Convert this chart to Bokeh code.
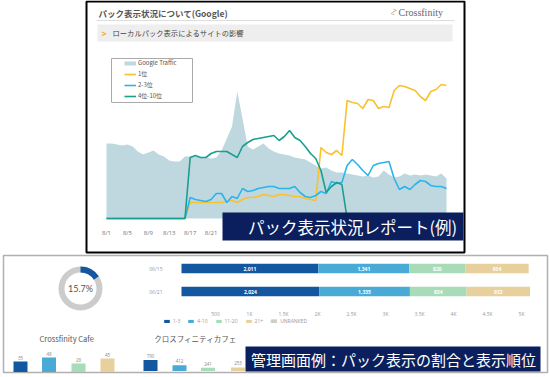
from bokeh.plotting import figure
from bokeh.models import Range1d, LinearAxis, FixedTicker, Legend, LegendItem, ColumnDataSource
from bokeh.core.properties import value
from bokeh.embed import file_html
from bokeh.resources import INLINE
import math

W, H = 550, 377

# ---------------- data: line chart (daily, 8/1 .. 10/5) ----------------
DAY_INDEX = list(range(66))
TICK_DAYS = [0, 4, 8, 12, 16, 20, 24, 28, 32, 36, 40, 44, 48, 52, 56, 60, 64]
TICK_LABELS = ["8/1", "8/5", "8/9", "8/13", "8/17", "8/21", "8/25", "8/29", "9/2",
               "9/6", "9/10", "9/14", "9/18", "9/22", "9/26", "9/30", "10/4"]
SERIES_NAMES = ["Google Traffic", "1位", "2-3位", "4位-10位"]
GOOGLE_TRAFFIC = [75, 75, 74, 73, 74, 72, 67, 64, 66, 68,
                  64, 62, 58, 57, 57, 62, 62, 62, 61, 61,
                  60, 61, 68, 80, 92, 127, 100, 72, 69, 72,
                  75, 70, 67, 65, 64, 63, 61, 60, 59, 56,
                  53, 50, 51, 48, 46, 46, 45, 44, 43, 42,
                  43, 41, 42, 48, 44, 41, 42, 45, 43, 44,
                  43, 44, 43, 42, 45, 40]
RANK_1 = [0, 0, 0, 0, 0, 0, 0, 0, 0, 0, 0, 0, 0, 0, 0, 0,
          16, 16, 16, 16, 16, 16, 16, 17, 18, 16,
          19, 21, 21, 22, 24, 23, 22, 24, 24, 23,
          22, 22, 20, 19, 18, 71, 66, 64, 68, 63,
          118, 116, 115, 110, 119, 118, 110, 112, 111, 128,
          133, 132, 130, 128, 122, 118, 127, 129, 134, 133]
RANK_2_3 = [0, 0, 0, 0, 0, 0, 0, 0, 0, 0, 0, 0, 0, 0, 0, 0,
            21, 19, 18, 17, 19, 25, 25, 16, 22, 20,
            30, 27, 28, 30, 31, 32, 32, 30, 30, 30,
            32, 26, 22, 21, 23, 27, 25, 37, 35, 36,
            53, 59, 54, 48, 43, 53, 55, 56, 57, 40,
            29, 32, 29, 34, 38, 37, 33, 32, 32, 30]
RANK_4_10 = [0, 0, 0, 0, 0, 0, 0, 0, 0, 0, 0, 0, 0, 0, 0, 0,
             61, 63, 61, 61, 65, 67, 67, 67, 64, 61,
             72, 76, 79, 80, 81, 82, 83, 78, 82, 88,
             81, 78, 72, 65, 60, 48, 26, 32, 36, 34,
             0, 0, 0, 0, 0, 0, 0, 0, 0, 0,
             0, 0, 0, 0, 0, 0, 0, 0, 0, 0]

# ---------------- data: admin screen ----------------
BAR_DATES = ["06/15", "06/21"]
R1_3 = [2011, 2024]
R4_10 = [1341, 1335]
R11_20 = [820, 834]
R21P = [934, 932]
RANK_NAMES = ["1-3", "4-10", "11-20", "21+", "UNRANKED"]
CNT_TICKS = [500, 1000, 1500, 2000, 2500, 3000, 3500, 4000, 4500, 5000]
CNT_TICK_LABELS = ["500", "1K", "1.5K", "2K", "2.5K", "3K", "3.5K", "4K", "4.5K", "5K"]
PACK_SHARE = 15.7
CAFE_NAMES = ["Crossfinity  Cafe", "クロスフィニティカフェ"]
CAFE1_RANKS = [35, 48, 28, 45]
CAFE2_RANKS = [790, 412, 241, 253]

TITLE = "パック表示状況について(Google)"
SUBTITLE = "ローカルパック表示によるサイトの影響"
LOGO = "Crossfinity"
CAPTION1 = "パック表示状況レポート(例)"
CAPTION2 = "管理画面例：パック表示の割合と表示順位"

# ---------------- styles ----------------
TRAFFIC_C = "#bfd8df"
LINE_COLORS = ["#f9c12e", "#2bb4ec", "#1a9e8e"]
RANK_COLORS = ["#12579f", "#4aaad6", "#a8dcb8", "#e8d09d", "#cccccc"]
NAVY = "#0b1f5e"
JP = "Noto Sans CJK JP"
LAT = "Open Sans"


def xmap(a, pa, b, pb):
    s = (pb - pa) / (b - a)
    return Range1d(a + (0 - pa) / s, a + (W - pa) / s)


def ymap(a, pa, b, pb):
    s = (pb - pa) / (b - a)
    return Range1d(a + (H - pa) / s, a + (0 - pa) / s)


p = figure(width=W, height=H, x_range=Range1d(0, W), y_range=Range1d(H, 0),
           min_border=0, toolbar_location=None, output_backend="svg",
           x_axis_type=None, y_axis_type=None)
p.outline_line_color = None
p.background_fill_color = "white"
p.border_fill_color = "white"
p.extra_x_ranges = {"day": xmap(0, 106, 65, 446), "cnt": xmap(0, 181, 5000, 521)}
p.extra_y_ranges = {"h": ymap(0, 218, 100, 118), "rows": ymap(0, 268, 1, 291),
                    "sb1": ymap(0, 371.5, 100, 341.5), "sb2": ymap(0, 370.5, 790, 359.5)}

# ---------------- panels ----------------
p.quad(left=[86], right=[464], top=[1], bottom=[252], fill_color="white",
       line_color="black", line_width=2)
p.quad(left=[3], right=[547], top=[255], bottom=[372], fill_color="white",
       line_color="#b0b0b0", line_width=1.5)

# header of top panel
p.segment(x0=[96], x1=[454], y0=[20], y1=[20], line_color="#dddddd", line_width=1)
p.quad(left=[97], right=[452], top=[24], bottom=[41], fill_color="#eeeeee", line_color=None)
p.text(x=[98], y=[12], text=[TITLE], text_font=value(JP), text_font_size="8.5px",
       text_font_style="bold", text_color="#555555", text_baseline="middle")
p.text(x=[101], y=[32.5], text=[">"], text_font=value(LAT), text_font_size="9px",
       text_font_style="bold", text_color="#f5a623", text_baseline="middle")
p.text(x=[112], y=[32.5], text=[SUBTITLE], text_font=value(JP), text_font_size="7.3px",
       text_color="#444444", text_baseline="middle")
p.text(x=[390], y=[13], text=["<"], text_font=value(LAT), text_font_size="7px",
       text_color="#999999", text_baseline="middle")
p.text(x=[392.5], y=[10], text=[">"], text_font=value(LAT), text_font_size="7px",
       text_font_style="bold", text_color="#f5a623", text_baseline="middle")
p.text(x=[398], y=[12], text=[LOGO], text_font=value("Liberation Serif"), text_font_size="10px",
       text_color="#666666", text_baseline="middle")

# ---------------- line chart ----------------
src = ColumnDataSource(dict(day=DAY_INDEX, traffic=GOOGLE_TRAFFIC, r1=RANK_1,
                            r23=RANK_2_3, r410=RANK_4_10))
p.varea(x="day", y1=0, y2="traffic", source=src, fill_color=TRAFFIC_C,
        x_range_name="day", y_range_name="h")
lines = []
for col, c in zip(["r1", "r23", "r410"], LINE_COLORS):
    lines.append(p.line("day", col, source=src, line_color=c, line_width=1.6,
                        x_range_name="day", y_range_name="h"))
traffic_key = p.line(x=[0], y=[float("nan")], line_color=TRAFFIC_C, line_width=4,
                     x_range_name="day", y_range_name="h")

xa = LinearAxis(x_range_name="day", fixed_location=218,
                ticker=FixedTicker(ticks=TICK_DAYS),
                major_label_overrides=dict(zip(TICK_DAYS, TICK_LABELS)),
                axis_line_color=None, major_tick_line_color=None, minor_tick_line_color=None,
                major_label_text_font_size="6px", major_label_text_color="#777777",
                major_label_text_font=LAT, major_label_standoff=4)
p.add_layout(xa, "below")

p.quad(left=[111], right=[192], top=[58], bottom=[102], fill_color="white",
       line_color="#aaaaaa", line_width=1)
leg = Legend(items=[LegendItem(label=SERIES_NAMES[0], renderers=[traffic_key])] +
             [LegendItem(label=n, renderers=[r]) for n, r in zip(SERIES_NAMES[1:], lines)],
             location=(124, 277), padding=2, spacing=2, margin=0,
             glyph_width=12, glyph_height=8, label_height=8, label_width=0, label_standoff=2,
             label_text_font_size="6px", label_text_font=JP, label_text_color="#555555",
             background_fill_alpha=0, border_line_color=None)
p.add_layout(leg)

# ---------------- admin: donut ----------------
p.annulus(x=[80], y=[288], inner_radius=16, outer_radius=22, inner_radius_units="screen",
          outer_radius_units="screen", fill_color="#cccccc", line_color=None)
share_ang = 2 * math.pi * PACK_SHARE / 100
p.annular_wedge(x=[80], y=[288], inner_radius=16, outer_radius=22, inner_radius_units="screen",
                outer_radius_units="screen", start_angle=math.pi / 2 - share_ang,
                end_angle=math.pi / 2, fill_color=RANK_COLORS[0], line_color=None)
p.text(x=[80], y=[288], text=[f"{PACK_SHARE}%"], text_font=value("Lato"), text_font_size="9px",
       text_color="#555555", text_align="center", text_baseline="middle")

# ---------------- admin: stacked bars ----------------
bsrc = ColumnDataSource(dict(row=list(range(len(BAR_DATES))), r13=R1_3, r410=R4_10,
                             r1120=R11_20, r21=R21P))
hb = p.hbar_stack(["r13", "r410", "r1120", "r21"], y="row", height=0.42,
                  color=RANK_COLORS[:4], source=bsrc, line_color=None,
                  x_range_name="cnt", y_range_name="rows")
unranked_key = p.hbar(y=[float("nan")], right=[float("nan")], height=0.4, color=RANK_COLORS[4],
                      x_range_name="cnt", y_range_name="rows")
lab_x, lab_y, lab_t = [], [], []
for i in range(len(BAR_DATES)):
    cum = 0
    for arr in (R1_3, R4_10, R11_20, R21P):
        v = arr[i]
        lab_x.append(cum + v / 2)
        lab_y.append(i)
        lab_t.append(f"{v:,}")
        cum += v
p.text(x=lab_x, y=lab_y, text=lab_t, x_range_name="cnt", y_range_name="rows",
       text_align="center", text_baseline="middle", text_color="white",
       text_font_size="5px", text_font_style="bold", text_font=value(LAT))

ca = LinearAxis(x_range_name="cnt", fixed_location=301, ticker=FixedTicker(ticks=CNT_TICKS),
                major_label_overrides=dict(zip(CNT_TICKS, CNT_TICK_LABELS)),
                axis_line_color=None, major_tick_line_color=None, minor_tick_line_color=None,
                major_label_text_font_size="5px", major_label_text_color="#999999",
                major_label_text_font=LAT, major_label_standoff=3)
p.add_layout(ca, "below")
ra = LinearAxis(y_range_name="rows", fixed_location=172,
                ticker=FixedTicker(ticks=list(range(len(BAR_DATES)))),
                major_label_overrides=dict(zip(range(len(BAR_DATES)), BAR_DATES)),
                axis_line_color=None, major_tick_line_color=None, minor_tick_line_color=None,
                major_label_text_font_size="5px", major_label_text_color="#999999",
                major_label_text_font=LAT, major_label_standoff=4)
p.add_layout(ra, "left")

leg2 = Legend(items=[LegendItem(label=n, renderers=[r])
                     for n, r in zip(RANK_NAMES, list(hb) + [unranked_key])],
              orientation="horizontal", location=(163, 53), padding=0, spacing=7, margin=0,
              glyph_width=7, glyph_height=4, label_height=6, label_width=0, label_standoff=3,
              label_text_font_size="5px", label_text_font=LAT, label_text_color="#999999",
              background_fill_alpha=0, border_line_color=None)
p.add_layout(leg2)

# ---------------- admin: rank bars for the two names ----------------
CAFE1_X = [20, 48.5, 78, 107]
CAFE2_X = [150, 179, 207.5, 237.5]
p.text(x=[67, 195], y=[338, 338], text=CAFE_NAMES, text_font=value(JP), text_font_size="7.5px",
       text_color="#555555", text_align="center", text_baseline="middle")
for xs, vals, rng in ((CAFE1_X, CAFE1_RANKS, "sb1"), (CAFE2_X, CAFE2_RANKS, "sb2")):
    p.vbar(x=xs, top=vals, bottom=0, width=14, color=RANK_COLORS[:4], line_color=None,
           y_range_name=rng)
    p.text(x=xs, y=vals, text=[str(v) for v in vals], y_range_name=rng, y_offset=-2,
           text_font=value(LAT), text_font_size="4.5px", text_color="#888888",
           text_align="center", text_baseline="bottom")

# ---------------- captions ----------------
p.quad(left=[222], right=[463], top=[212], bottom=[240], fill_color=NAVY, line_color=None,
       level="overlay")
p.text(x=[352], y=[226.5], text=[CAPTION1], text_font=value(JP), text_font_size="16.5px",
       text_color="white", text_align="center", text_baseline="middle", level="overlay")
p.quad(left=[245], right=[540], top=[346], bottom=[371], fill_color=NAVY, line_color=None,
       level="overlay")
p.text(x=[393], y=[358.5], text=[CAPTION2], text_font=value(JP), text_font_size="15px",
       text_color="white", text_align="center", text_baseline="middle", level="overlay")

open("out.html", "w").write(file_html(p, INLINE))
